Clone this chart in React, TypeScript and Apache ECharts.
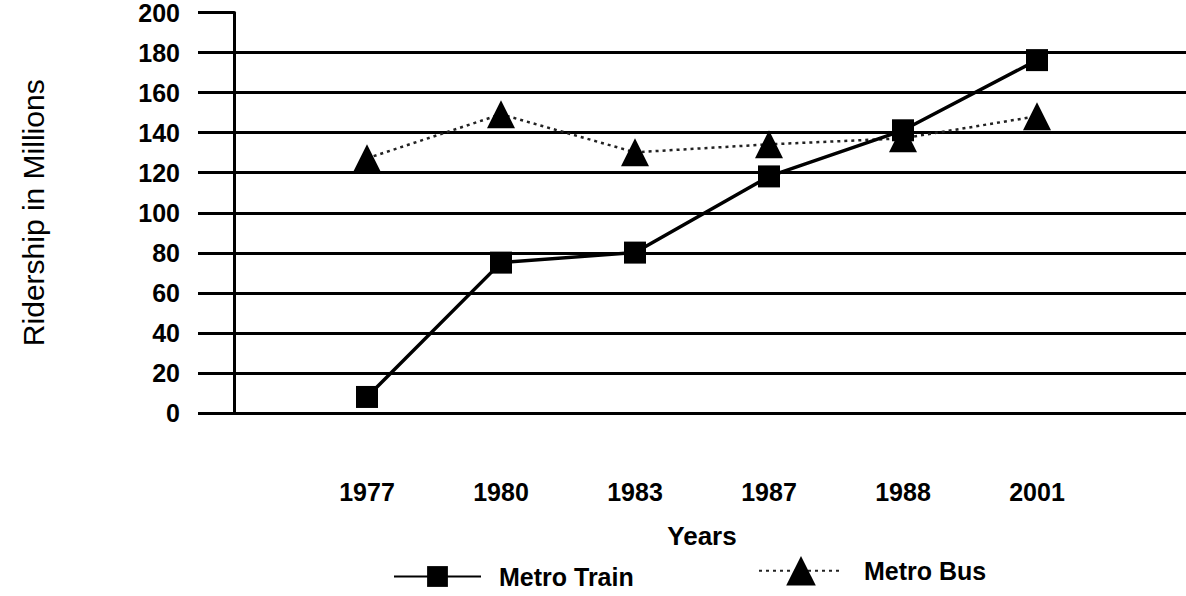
import React, { useEffect, useRef } from "react";
import * as echarts from "echarts";

const years = ["1977", "1980", "1983", "1987", "1988", "2001"];
const metroTrain = [8, 75, 80, 118, 141, 176];
const metroBus = [127, 149, 130, 134, 137, 148];
const yMin = 0;
const yMax = 200;
const yStep = 20;

const FONT = "'Liberation Sans', Arial, sans-serif";

export default function App() {
  const ref = useRef<HTMLDivElement>(null);

  useEffect(() => {
    if (!ref.current) return;
    const chart = echarts.init(ref.current, undefined, { renderer: "svg" });
    const gridTop = 12;
    const gridBottom = 183;
    chart.setOption({
      animation: false,
      backgroundColor: "#ffffff",
      textStyle: { fontFamily: FONT, color: "#000" },
      grid: [
        { left: 234, right: 0, top: gridTop, bottom: gridBottom },
        { left: 300, right: 82, top: gridTop, bottom: gridBottom },
      ],
      xAxis: [
        { type: "value", gridIndex: 0, min: 0, max: 1, show: false },
        {
          type: "category",
          gridIndex: 1,
          data: years,
          boundaryGap: true,
          axisLine: { show: false },
          axisTick: { show: false },
          axisLabel: {
            margin: 66,
            fontSize: 25,
            fontWeight: "bold",
            color: "#000",
            fontFamily: FONT,
          },
          name: "Years",
          nameLocation: "middle",
          nameGap: 110,
          nameTextStyle: {
            fontSize: 26,
            fontWeight: "bold",
            color: "#000",
            fontFamily: FONT,
          },
        },
      ],
      yAxis: [
        {
          type: "value",
          gridIndex: 0,
          min: yMin,
          max: yMax,
          interval: yStep,
          axisLine: { show: true, lineStyle: { color: "#000", width: 3 } },
          axisTick: {
            show: true,
            length: 36,
            lineStyle: { color: "#000", width: 2.8 },
          },
          splitLine: {
            show: true,
            showMaxLine: false,
            lineStyle: { color: "#000", width: 2.8 },
          },
          axisLabel: {
            margin: 54,
            fontSize: 25,
            fontWeight: "bold",
            color: "#000",
            fontFamily: FONT,
          },
          name: "Ridership in Millions",
          nameLocation: "middle",
          nameRotate: 90,
          nameGap: 186,
          nameTextStyle: {
            fontSize: 30,
            color: "#000",
            fontFamily: FONT,
          },
        },
        { type: "value", gridIndex: 1, min: yMin, max: yMax, show: false },
      ],
      legend: [
        {
          data: ["Metro Train"],
          left: 388,
          top: 559,
          itemWidth: 87,
          itemHeight: 26,
          selectedMode: false,
          textStyle: {
            fontSize: 25,
            fontWeight: "bold",
            color: "#000",
            fontFamily: FONT,
            padding: [0, 0, 0, 13],
          },
        },
        {
          data: ["Metro Bus"],
          left: 753,
          top: 551,
          itemWidth: 84,
          itemHeight: 37,
          selectedMode: false,
          textStyle: {
            fontSize: 25,
            fontWeight: "bold",
            color: "#000",
            fontFamily: FONT,
            padding: [0, 0, 0, 16],
          },
        },
      ],
      series: [
        {
          name: "Metro Train",
          type: "line",
          xAxisIndex: 1,
          yAxisIndex: 1,
          data: metroTrain,
          symbol: "rect",
          symbolSize: 22,
          itemStyle: { color: "#000" },
          lineStyle: { color: "#000", width: 3.5, type: "solid" },
          z: 3,
        },
        {
          name: "Metro Bus",
          type: "line",
          xAxisIndex: 1,
          yAxisIndex: 1,
          data: metroBus,
          symbol: "triangle",
          symbolSize: 28,
          itemStyle: { color: "#000" },
          lineStyle: { color: "#222", width: 2.5, type: [3, 4] },
          z: 2,
        },
      ],
    });
    return () => chart.dispose();
  }, []);

  return (
    <div
      ref={ref}
      style={{
        position: "absolute",
        left: 0,
        top: 0,
        width: "1186px",
        height: "596px",
        background: "#fff",
      }}
    />
  );
}
